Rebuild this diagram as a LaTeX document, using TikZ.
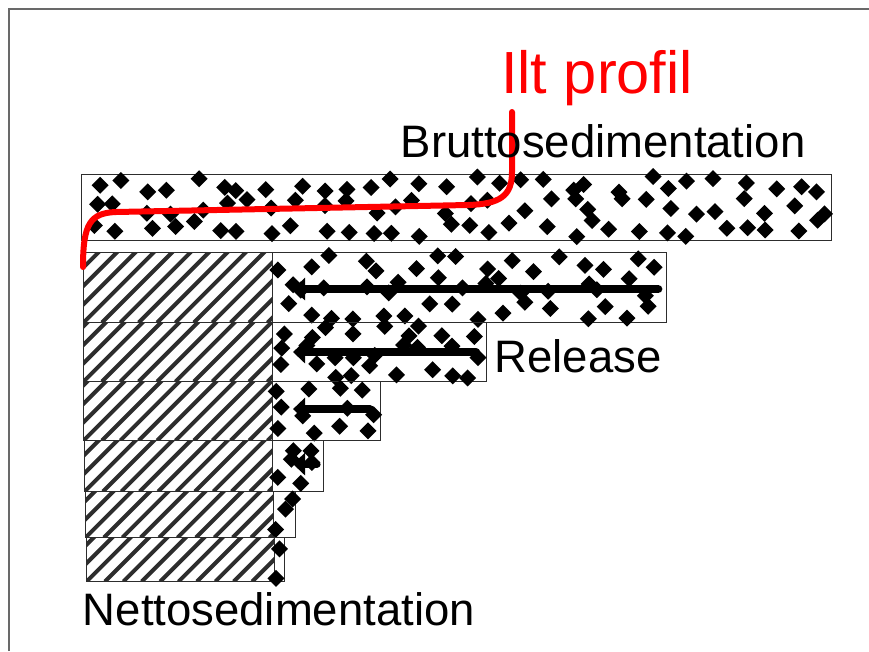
\documentclass[tikz,border=0pt]{standalone}
\usepackage{fontspec}
\setmainfont{Liberation Sans}
\usetikzlibrary{arrows.meta, positioning}
\definecolor{ilt_red}{RGB}{255, 0, 0}
\definecolor{frame_gray}{RGB}{105, 105, 105}
\definecolor{edge_gray}{RGB}{45, 45, 45}

% scattered diamonds on a jittered grid: left, top, cols, rows, cell width, cell height
\newcommand{\confetti}[6]{%
  \foreach \ci in {1,...,#3}{
    \foreach \cj in {1,...,#4}{
      \pgfmathsetmacro\px{#1+(\ci-0.5)*#5+0.4*rand*#5}
      \pgfmathsetmacro\py{#2+(\cj-0.5)*#6+0.4*rand*#6}
      \fill (\px,\py) +(-8.5,0) -- +(0,-8.5) -- +(8.5,0) -- +(0,8.5) -- cycle;
    }
  }
}

\begin{document}
\begin{tikzpicture}[
    x=1pt, y=-1pt,
    sedbox/.style={
        rectangle,
        draw=edge_gray,
        line width=1.1pt,
        anchor=north west,
        inner sep=0pt,
        path picture={
            \foreach \k in {-5,...,11}
                \draw[line width=4pt]
                    ([xshift=\k*18.4pt]path picture bounding box.south west)
                    -- ++(120pt,120pt);
        }
    },
    relbox/.style={
        rectangle,
        draw=edge_gray,
        line width=1.1pt,
        anchor=north west,
        inner sep=0pt
    },
    caption/.style={
        anchor=base west,
        inner sep=0pt,
        font=\fontsize{45.5}{52}\selectfont
    },
    flow/.style={
        line width=#1,
        line cap=round,
        -{Triangle[length=12pt, width=22pt]}
    },
    ilt_line/.style={
        draw=ilt_red,
        line width=6pt,
        line cap=round
    },
]
\useasboundingbox (0,0) rectangle (869,651);

% slide frame
\draw[frame_gray, line width=1.5pt] (9,651) -- (9,9) -- (869,9);

\pgfmathsetseed{11}

% gross sedimentation bar
\node[relbox, minimum width=750pt, minimum height=66pt] (bar) at (81,174) {};
\confetti{81}{174}{30}{3}{25}{22}

% net sedimentation rows (hatched) and release parts
\node[sedbox, minimum width=189pt, minimum height=70pt] (sed1) at (83,252) {};
\node[relbox, minimum width=394pt, minimum height=70pt] (rel1) at (272,252) {};
\confetti{272}{252}{16}{3}{24.6}{23.3}

\node[sedbox, minimum width=189pt, minimum height=59pt] (sed2) at (83,322) {};
\node[relbox, minimum width=214pt, minimum height=59pt] (rel2) at (272,322) {};
\confetti{272}{322}{9}{3}{23.8}{19.7}

\node[sedbox, minimum width=189pt, minimum height=59pt] (sed3) at (83,381) {};
\node[relbox, minimum width=108pt, minimum height=59pt] (rel3) at (272,381) {};
\confetti{272}{381}{4}{3}{27}{19.7}

\node[sedbox, minimum width=188pt, minimum height=51pt] (sed4) at (84,440) {};
\node[relbox, minimum width=51pt, minimum height=51pt] (rel4) at (272,440) {};
\confetti{272}{440}{2}{3}{25.5}{17}

\node[sedbox, minimum width=188pt, minimum height=46pt] (sed5) at (85,491) {};
\node[relbox, minimum width=22pt, minimum height=46pt] (rel5) at (273,491) {};
\confetti{273}{491}{1}{3}{22}{15.3}

\node[sedbox, minimum width=188pt, minimum height=44pt] (sed6) at (86,537) {};
\node[relbox, minimum width=10pt, minimum height=44pt] (rel6) at (274,537) {};
\confetti{274}{537}{1}{2}{10}{22}

% release arrows
\draw[flow=8.5pt] ([xshift=-9pt, yshift=-1.5pt]rel1.east) -- ([xshift=21pt, yshift=-1.5pt]rel1.west);
\draw[flow=8pt] ([xshift=-11pt]rel2.east) -- ([xshift=21pt]rel2.west);
\draw[flow=7.5pt] ([xshift=-11pt, yshift=2pt]rel3.east) -- ([xshift=21pt, yshift=2pt]rel3.west);
\draw[flow=7pt] ([xshift=-7pt, yshift=2pt]rel4.east) -- ([xshift=21pt, yshift=2pt]rel4.west);

% ilt profile
\draw[ilt_line] (83,267) .. controls (83,224) and (90,213) .. (116,212)
    -- (468,205) .. controls (500,204) and (512,196) .. (512,172) -- (512,112);

% labels
\node[caption, text=ilt_red, font=\fontsize{59.5}{66}\selectfont] (ilt) at (501,93) {Ilt profil};
\node[caption] (brutto) at (400.5,157) {Bruttosedimentation};
\node[caption] (release) at (494.5,372) {Release};
\node[caption] (netto) at (82.7,625) {Nettosedimentation};

\end{tikzpicture}
\end{document}
